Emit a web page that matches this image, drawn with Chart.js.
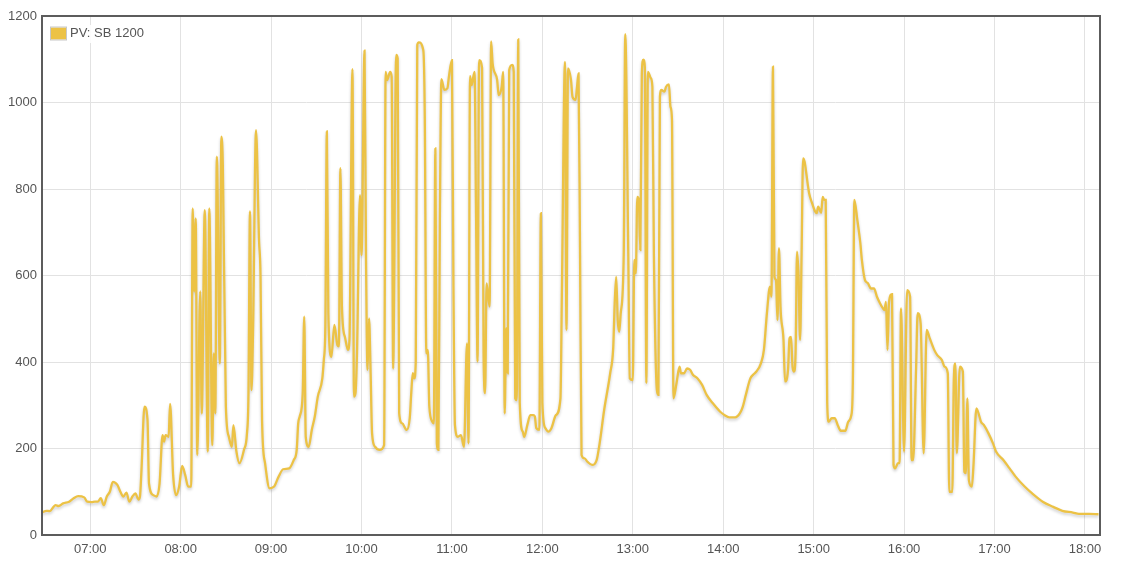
<!DOCTYPE html>
<html><head><meta charset="utf-8">
<script src="https://cdn.jsdelivr.net/npm/chart.js@4.4.1/dist/chart.umd.min.js"></script>
<style>html,body{margin:0;padding:0;background:#fff}#wrap{width:1126px;height:564px;position:relative}</style>
</head><body><div id="wrap"><canvas id="c" width="1126" height="564"></canvas></div>
<script>
const seriesLabel = "PV: SB 1200";
const times = ["06:28","06:31","06:33","06:37","06:39","06:42","06:46","06:49","06:52","06:56","06:58","07:01","07:03","07:05","07:07","07:09","07:11","07:13","07:15","07:18","07:20","07:22","07:24","07:26","07:28","07:30","07:32","07:33","07:34","07:36","07:38","07:39","07:42","07:44","07:46","07:48","07:49","07:50","07:52","07:53","07:55","07:57","07:59","08:01","08:03","08:05","08:07","08:08","08:09","08:10","08:11","08:13","08:14","08:16","08:18","08:19","08:21","08:22","08:23","08:24","08:26","08:27","08:28","08:30","08:32","08:34","08:35","08:37","08:39","08:42","08:44","08:45","08:46","08:47","08:48","08:50","08:52","08:53","08:54","08:56","08:59","09:02","09:05","09:08","09:12","09:15","09:17","09:18","09:19","09:21","09:22","09:23","09:25","09:27","09:29","09:31","09:34","09:35","09:36","09:37","09:38","09:40","09:42","09:44","09:45","09:46","09:47","09:49","09:51","09:52","09:54","09:55","09:56","09:57","09:59","10:00","10:02","10:03","10:04","10:05","10:06","10:07","10:09","10:12","10:15","10:16","10:17","10:19","10:20","10:21","10:23","10:24","10:25","10:27","10:30","10:32","10:33","10:34","10:35","10:36","10:37","10:38","10:41","10:42","10:43","10:44","10:45","10:47","10:48","10:49","10:50","10:51","10:52","10:53","10:55","10:57","10:58","11:00","11:01","11:02","11:04","11:06","11:08","11:10","11:11","11:12","11:13","11:15","11:16","11:17","11:18","11:20","11:21","11:22","11:23","11:25","11:26","11:27","11:30","11:31","11:33","11:34","11:35","11:36","11:37","11:38","11:40","11:41","11:42","11:43","11:44","11:45","11:47","11:48","11:50","11:52","11:54","11:55","11:56","11:58","11:59","12:00","12:02","12:04","12:06","12:09","12:12","12:13","12:15","12:16","12:17","12:19","12:20","12:22","12:23","12:24","12:25","12:26","12:28","12:30","12:33","12:36","12:38","12:41","12:45","12:47","12:48","12:49","12:50","12:51","12:52","12:54","12:55","12:57","12:58","13:00","13:01","13:02","13:03","13:04","13:05","13:06","13:07","13:08","13:09","13:10","13:12","13:13","13:14","13:16","13:17","13:18","13:19","13:21","13:22","13:24","13:25","13:26","13:27","13:29","13:31","13:32","13:34","13:36","13:38","13:40","13:43","13:46","13:49","13:53","13:58","14:01","14:04","14:08","14:11","14:13","14:15","14:18","14:20","14:22","14:25","14:27","14:29","14:31","14:32","14:33","14:34","14:35","14:36","14:37","14:38","14:40","14:41","14:43","14:44","14:45","14:46","14:47","14:48","14:49","14:50","14:51","14:52","14:53","14:54","14:56","14:57","14:59","15:01","15:02","15:03","15:05","15:06","15:07","15:08","15:09","15:10","15:12","15:14","15:16","15:18","15:21","15:23","15:25","15:26","15:27","15:29","15:31","15:32","15:34","15:36","15:38","15:40","15:42","15:44","15:46","15:47","15:48","15:49","15:50","15:52","15:53","15:54","15:56","15:57","15:58","16:00","16:02","16:04","16:05","16:06","16:08","16:09","16:11","16:13","16:15","16:17","16:20","16:22","16:25","16:27","16:29","16:30","16:32","16:33","16:34","16:35","16:37","16:39","16:40","16:41","16:42","16:43","16:45","16:46","16:48","16:50","16:51","16:53","16:56","16:59","17:01","17:06","17:10","17:14","17:20","17:25","17:32","17:39","17:45","17:52","17:56","18:03","18:09"];
const values = [52,56,55,69,67,73,77,85,90,87,77,76,77,77,85,69,89,100,123,116,100,89,98,77,89,96,82,89,150,297,266,119,92,89,119,231,216,231,227,303,139,92,112,160,139,112,112,755,563,732,185,563,281,751,193,755,208,420,281,875,397,921,852,297,227,204,254,193,166,197,235,328,748,335,466,936,682,597,266,166,108,112,135,152,154,173,197,258,274,328,505,227,204,243,274,320,362,405,482,933,513,412,486,439,436,848,528,458,428,451,1077,320,328,420,786,647,1120,636,382,501,382,235,204,197,208,1071,1052,1071,1060,385,1110,1102,281,258,243,270,328,374,362,401,1133,1139,1121,960,420,428,297,262,258,894,212,197,728,1054,1029,1033,1060,1098,574,254,227,231,204,443,212,1061,1040,1071,744,401,1098,1080,420,328,582,528,1141,1090,1052,1017,1036,1071,281,478,374,1075,1087,1071,316,312,1146,305,239,227,254,277,277,274,247,243,744,305,247,239,247,277,316,574,1094,474,1079,1052,1013,1006,1036,1067,651,185,177,169,162,173,212,289,374,432,536,597,497,470,513,651,1158,651,362,358,636,605,782,775,659,1067,1099,1082,351,1071,1056,1036,651,335,324,1013,1029,1025,1036,1042,990,960,316,351,389,374,374,385,382,370,362,347,324,305,285,277,272,272,281,297,324,362,371,378,397,428,513,574,551,1083,597,590,497,663,528,451,355,382,455,458,389,378,420,655,597,451,651,871,863,813,790,767,748,744,759,745,782,775,775,305,262,270,270,254,241,241,262,277,351,775,728,674,636,590,582,570,570,551,536,524,520,539,428,539,557,162,154,166,166,524,193,566,551,173,173,389,513,489,189,474,455,428,416,405,389,374,100,100,358,397,189,389,378,146,143,316,127,112,158,293,274,262,254,235,212,193,173,154,135,112,96,77,65,56,52,49,49,48];
const yTickValues = [0,200,400,600,800,1000,1200];
const xTickLabels = ["07:00","08:00","09:00","10:00","11:00","12:00","13:00","14:00","15:00","16:00","17:00","18:00"];
const xRange = ["06:28","18:10"];

const toMin = t => { const p = t.split(":"); return (+p[0])*60 + (+p[1]); };
const fmt = v => { const h = Math.floor(v/60), m = Math.round(v%60); return String(h).padStart(2,"0")+":"+String(m).padStart(2,"0"); };
const points = times.map((t,i) => ({x: toMin(t), y: values[i]}));
const LINE = "#ECC245";
const FONT = "'Liberation Sans', Arial, Helvetica, sans-serif";

const shadowPlugin = {
  id: "shadow",
  beforeDatasetDraw(chart){ const c = chart.ctx; c.save(); c.shadowColor = "rgba(0,0,0,0.2)"; c.shadowBlur = 3; c.shadowOffsetY = 2; },
  afterDatasetDraw(chart){ chart.ctx.restore(); }
};
const framePlugin = {
  id: "frame",
  afterDatasetsDraw(chart){
    const {ctx, chartArea:a} = chart;
    ctx.save(); ctx.strokeStyle = "#5c5c5c"; ctx.lineWidth = 2;
    ctx.strokeRect(a.left, a.top, a.right - a.left, a.bottom - a.top);
    ctx.restore();
  }
};
const legendPlugin = {
  id: "innerLegend",
  afterDraw(chart){
    const {ctx, chartArea:a} = chart;
    const label = chart.data.datasets[0].label;
    ctx.save();
    ctx.font = "13px " + FONT;
    const tw = ctx.measureText(label).width;
    const x0 = a.left + 8, y0 = a.top + 10;
    ctx.fillStyle = "rgba(255,255,255,0.9)";
    ctx.fillRect(x0 - 2, y0 - 1, 21 + tw + 4, 18);
    ctx.fillStyle = LINE; ctx.fillRect(x0 + 1, y0 + 1.5, 15, 12);
    ctx.strokeStyle = "#c8c8c8"; ctx.lineWidth = 1; ctx.strokeRect(x0 + 0.5, y0 + 1, 16, 13);
    ctx.fillStyle = "#555"; ctx.textBaseline = "middle"; ctx.textAlign = "left";
    ctx.fillText(label, x0 + 20, y0 + 7.5);
    ctx.restore();
  }
};

new Chart(document.getElementById("c"), {
  type: "line",
  data: { datasets: [{ label: seriesLabel, data: points, borderColor: LINE, backgroundColor: LINE,
    borderWidth: 2.3, pointRadius: 0, fill: false, cubicInterpolationMode: "monotone" }] },
  options: {
    responsive: false, animation: false, devicePixelRatio: 1,
    layout: { padding: { top: 16, right: 26, left: 0, bottom: 0 } },
    plugins: { legend: { display: false }, tooltip: { enabled: false } },
    scales: {
      x: { type: "linear", min: toMin(xRange[0]), max: toMin(xRange[1]),
        afterBuildTicks: s => { s.ticks = xTickLabels.map(t => ({ value: toMin(t) })); },
        afterFit: s => { s.height = 29; },
        border: { display: false },
        grid: { color: "#e2e2e2", lineWidth: 1, drawTicks: false },
        ticks: { callback: v => fmt(v), color: "#555", padding: 7, maxRotation: 0, autoSkip: false, font: { family: FONT, size: 13 } } },
      y: { min: 0, max: 1200,
        afterBuildTicks: s => { s.ticks = yTickValues.map(v => ({ value: v })); },
        afterFit: s => { s.width = 42; },
        border: { display: false },
        grid: { color: "#e2e2e2", lineWidth: 1, drawTicks: false },
        ticks: { callback: v => String(v), color: "#555", padding: 5, font: { family: FONT, size: 13 } } }
    }
  },
  plugins: [shadowPlugin, framePlugin, legendPlugin]
});
</script></body></html>
